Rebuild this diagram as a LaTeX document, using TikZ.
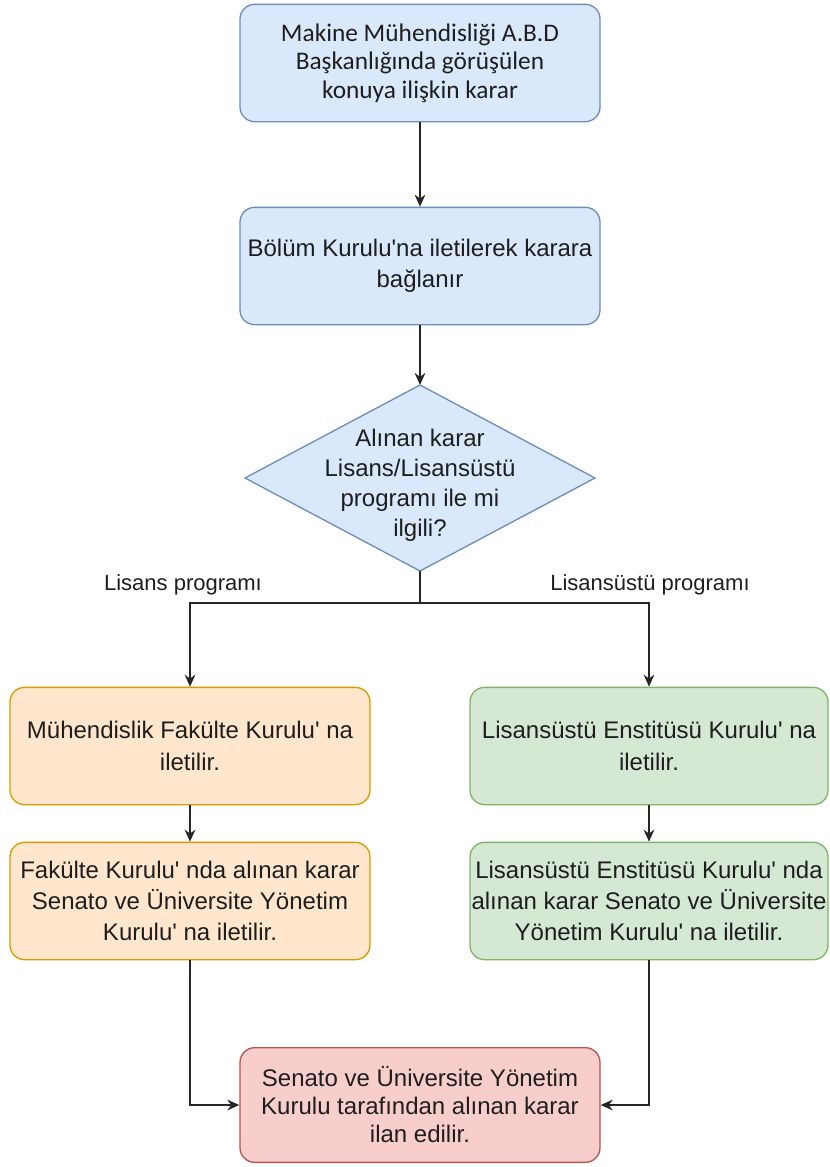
\documentclass[tikz,border=0pt]{standalone}
\usepackage{fontspec}
\setmainfont{Liberation Sans}
\newfontfamily\calib{Carlito}
\usetikzlibrary{arrows.meta}
\newcommand{\apo}{\textquotesingle}
\definecolor{txt}{HTML}{1E1E1E}
\definecolor{bluef}{HTML}{DAE8FC}\definecolor{blued}{HTML}{6C8EBF}
\definecolor{orf}{HTML}{FFE6CC}\definecolor{ord}{HTML}{D79B00}
\definecolor{grf}{HTML}{D5E8D4}\definecolor{grd}{HTML}{82B366}
\definecolor{redf}{HTML}{F8CECC}\definecolor{redd}{HTML}{B85450}
\tikzset{
  box/.style={rectangle, rounded corners=11pt, line width=1pt, minimum width=270pt, minimum height=88pt, inner sep=0pt, align=center, text=txt, font=\fontsize{18}{23.5}\selectfont},
  bluebox/.style={box, fill=bluef, draw=blued},
  orbox/.style={box, fill=orf, draw=ord},
  grbox/.style={box, fill=grf, draw=grd},
  redbox/.style={box, fill=redf, draw=redd},
  conn/.style={line width=1.35pt, draw=black!85},
  arr/.style={conn, -{Stealth[length=9pt, width=8pt]}},
  lbl/.style={text=txt, font=\fontsize{16.5}{20}\selectfont, inner sep=0pt},
}
\begin{document}
\begin{tikzpicture}[x=0.75pt, y=-0.75pt]
\useasboundingbox (0,0) rectangle (829,1167);
\node[bluebox, font=\calib\fontsize{19}{21.5}\selectfont] (b1) at (420,63) {Makine Mühendisliği A.B.D\\Başkanlığında görüşülen\\konuya ilişkin karar};
\node[bluebox] (b2) at (420,266) {Bölüm Kurulu\apo na iletilerek karara\\bağlanır};
\coordinate (dtop) at (420,385);
\coordinate (dbot) at (420,571);
\coordinate (dleft) at (245,478);
\coordinate (dright) at (595,478);
\draw[fill=bluef, draw=blued, line width=1pt] (dtop) -- (dright) -- (dbot) -- (dleft) -- cycle;
\node[align=center, text=txt, font=\fontsize{18}{22.5}\selectfont, inner sep=0pt] (dtext) at (420,485) {Alınan karar\\Lisans/Lisansüstü\\programı ile mi\\ilgili?};
\coordinate (j) at (420,603);
\node[orbox] (b3) at (190,746) {Mühendislik Fakülte Kurulu\apo{} na\\iletilir.};
\node[grbox, minimum width=268.5pt] (b4) at (649,746) {Lisansüstü Enstitüsü Kurulu\apo{} na\\iletilir.};
\node[orbox] (b5) at (190,901) {Fakülte Kurulu\apo{} nda alınan karar\\Senato ve Üniversite Yönetim\\Kurulu\apo{} na iletilir.};
\node[grbox, minimum width=268.5pt] (b6) at (649,901) {Lisansüstü Enstitüsü Kurulu\apo{} nda\\alınan karar Senato ve Üniversite\\Yönetim Kurulu\apo{} na iletilir.};
\node[redbox, minimum height=86pt, font=\fontsize{18}{21}\selectfont] (b7) at (420,1105) {Senato ve Üniversite Yönetim\\Kurulu tarafından alınan karar\\ilan edilir.};
\node[lbl] (l1) at (183,585) {Lisans programı};
\node[lbl] (l2) at (650,585) {Lisansüstü programı};
\draw[arr] (b1) -- (b2);
\draw[arr] (b2) -- (dtop);
\draw[conn] (dbot) -- (j);
\draw[arr] (j) -| (b3.north);
\draw[arr] (j) -| (b4.north);
\draw[arr] (b3) -- (b5);
\draw[arr] (b4) -- (b6);
\draw[arr] (b5.south) |- (b7.west);
\draw[arr] (b6.south) |- (b7.east);
\end{tikzpicture}
\end{document}
